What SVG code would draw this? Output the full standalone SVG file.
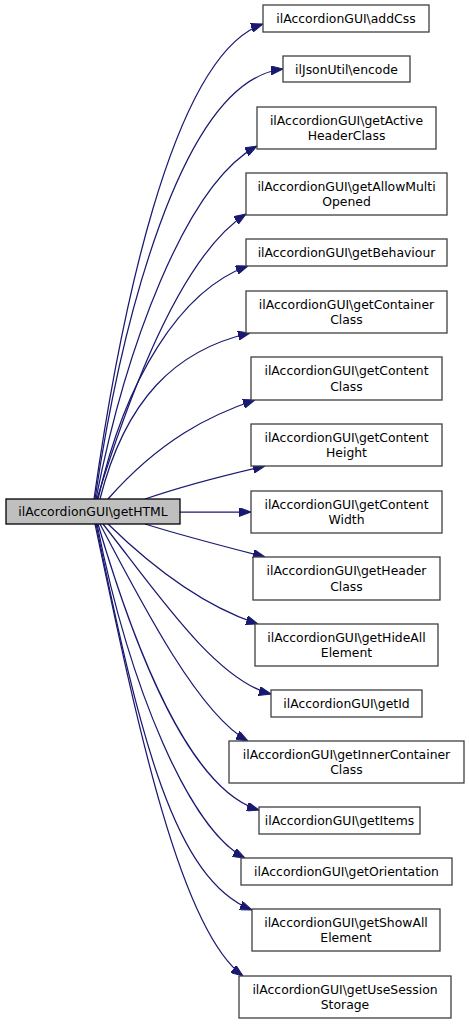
<svg xmlns="http://www.w3.org/2000/svg" width="469" height="1024" viewBox="0 0 469 1024">
<style>
.n rect{fill:#ffffff;stroke:#404040;stroke-width:1.3}
.m rect{fill:#bfbfbf;stroke:#000000;stroke-width:1.3}
text{font-family:"DejaVu Sans","Liberation Sans",sans-serif;font-size:12.4px;fill:#000;text-anchor:middle}
.e path{fill:none;stroke:#191970;stroke-width:1.25;marker-end:url(#ah)}
</style>
<defs>
<marker id="ah" viewBox="0 0 12 9" refX="12" refY="4.5" markerWidth="12" markerHeight="9" markerUnits="userSpaceOnUse" orient="auto">
<path d="M0,0 L12,4.5 L0,9 z" fill="#191970" stroke="#191970" stroke-width="1"/>
</marker>
</defs>
<rect width="469" height="1024" fill="#ffffff"/>
<g id="edges" class="e">
<path d="M94,499 C118,330 170,55 263,24"/>
<path d="M95,499 C120,330 180,80 283,69"/>
<path d="M96,499 C125,350 185,185 257,146"/>
<path d="M97,499 C140,360 190,250 246,214"/>
<path d="M98,499 C125,380 180,290 248,266"/>
<path d="M100,499 C125,400 175,350 250,333"/>
<path d="M108,499 C160,440 210,415 255,400"/>
<path d="M145,499 C180,487 230,474 265,466"/>
<path d="M180,512 L251,512"/>
<path d="M145,524 C180,535 230,548 265,557"/>
<path d="M108,524 C150,565 200,605 258,624"/>
<path d="M103,524 C155,590 215,680 271,694"/>
<path d="M100,524 C145,610 200,715 248,741"/>
<path d="M98,524 C135,650 190,790 259,810"/>
<path d="M97,524 C130,690 190,830 245,858"/>
<path d="M96,524 C140,740 175,880 252,910"/>
<path d="M95,524 C137,724 180,930 243,976"/>
</g>
<g id="node-getHTML" class="m"><rect x="6" y="499" width="174" height="25"/><text x="93" y="516">ilAccordionGUI\getHTML</text></g>
<g id="node-addCss" class="n"><rect x="263" y="5" width="166" height="27"/><text x="346" y="23">ilAccordionGUI\addCss</text></g>
<g id="node-encode" class="n"><rect x="283" y="56" width="127" height="26"/><text x="346.5" y="73.5">ilJsonUtil\encode</text></g>
<g id="node-getActiveHeaderClass" class="n"><rect x="257" y="107" width="179" height="42"/><text x="346.5" y="124.5">ilAccordionGUI\getActive</text><text x="346.5" y="140">HeaderClass</text></g>
<g id="node-getAllowMultiOpened" class="n"><rect x="246" y="173" width="201" height="42"/><text x="346.5" y="190.5">ilAccordionGUI\getAllowMulti</text><text x="346.5" y="206">Opened</text></g>
<g id="node-getBehaviour" class="n"><rect x="246" y="239" width="201" height="27"/><text x="346.5" y="257">ilAccordionGUI\getBehaviour</text></g>
<g id="node-getContainerClass" class="n"><rect x="246" y="291" width="201" height="42"/><text x="346.5" y="308.5">ilAccordionGUI\getContainer</text><text x="346.5" y="324">Class</text></g>
<g id="node-getContentClass" class="n"><rect x="251" y="357" width="191" height="43"/><text x="346.5" y="375">ilAccordionGUI\getContent</text><text x="346.5" y="390.5">Class</text></g>
<g id="node-getContentHeight" class="n"><rect x="251" y="424" width="191" height="42"/><text x="346.5" y="441.5">ilAccordionGUI\getContent</text><text x="346.5" y="457">Height</text></g>
<g id="node-getContentWidth" class="n"><rect x="251" y="491" width="191" height="42"/><text x="346.5" y="508.5">ilAccordionGUI\getContent</text><text x="346.5" y="524">Width</text></g>
<g id="node-getHeaderClass" class="n"><rect x="253" y="557" width="187" height="43"/><text x="346.5" y="575">ilAccordionGUI\getHeader</text><text x="346.5" y="590.5">Class</text></g>
<g id="node-getHideAllElement" class="n"><rect x="255" y="624" width="183" height="42"/><text x="346.5" y="641.5">ilAccordionGUI\getHideAll</text><text x="346.5" y="657">Element</text></g>
<g id="node-getId" class="n"><rect x="271" y="690" width="151" height="27"/><text x="346.5" y="708">ilAccordionGUI\getId</text></g>
<g id="node-getInnerContainerClass" class="n"><rect x="229" y="741" width="235" height="42"/><text x="346.5" y="758.5">ilAccordionGUI\getInnerContainer</text><text x="346.5" y="774">Class</text></g>
<g id="node-getItems" class="n"><rect x="259" y="807" width="161" height="27"/><text x="339.5" y="825">ilAccordionGUI\getItems</text></g>
<g id="node-getOrientation" class="n"><rect x="241" y="858" width="211" height="27"/><text x="346.5" y="876">ilAccordionGUI\getOrientation</text></g>
<g id="node-getShowAllElement" class="n"><rect x="252" y="909" width="188" height="42"/><text x="346" y="926.5">ilAccordionGUI\getShowAll</text><text x="346" y="942">Element</text></g>
<g id="node-getUseSessionStorage" class="n"><rect x="239" y="976" width="212" height="42"/><text x="345" y="993.5">ilAccordionGUI\getUseSession</text><text x="345" y="1009">Storage</text></g>
</svg>
